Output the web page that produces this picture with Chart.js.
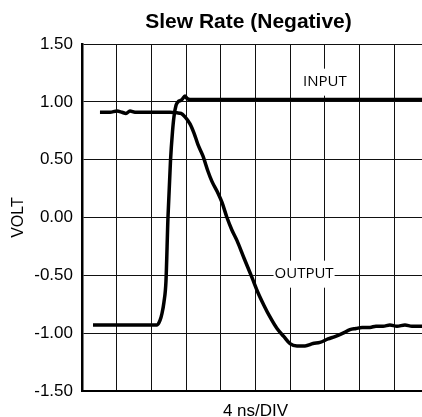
<!DOCTYPE html>
<html>
<head>
<meta charset="utf-8">
<title>Slew Rate (Negative)</title>
<script src="https://cdn.jsdelivr.net/npm/chart.js@4.4.1/dist/chart.umd.min.js"></script>
<style>
  html, body { margin: 0; padding: 0; background: #fff; overflow: hidden; }
  /* the original scope shot is cut off at the right and bottom, so the canvas is a bit larger than the window */
  #wrap { position: relative; width: 429px; height: 425px; }
</style>
</head>
<body>
<div id="wrap"><canvas id="slewChart"></canvas></div>
<script>
// time in ns (4 ns per division), voltage in V
const inputTime = [1.27, 4.96, 8.65, 8.99, 9.22, 9.45, 9.68, 9.91, 10.20, 10.43, 10.60, 10.84, 11.07, 11.30, 11.53, 11.87, 12.10, 12.45, 40.0];
const inputVolt = [-0.93, -0.93, -0.93, -0.89, -0.83, -0.73, -0.55, 0.00, 0.49, 0.74, 0.87, 0.97, 1.00, 1.01, 1.02, 1.05, 1.03, 1.02, 1.02];

const outputTime = [2.07, 3.23, 4.03, 4.61, 5.07, 5.53, 6.11, 7.84, 10.14, 10.95, 11.41, 11.87, 12.45, 12.91, 13.37,
  13.95, 14.52, 14.99, 15.68, 16.14, 16.71, 17.29, 17.87, 18.67, 19.60, 20.29, 20.98, 21.67, 22.48, 23.28, 23.98,
  24.78, 25.71, 26.63, 27.43, 28.36, 29.16, 30.09, 30.89, 31.58, 32.28, 33.20, 33.89, 34.70, 35.50, 36.31, 37.23,
  38.04, 39.19, 40.0];
const outputVolt = [0.91, 0.91, 0.92, 0.91, 0.90, 0.92, 0.91, 0.91, 0.91, 0.905, 0.90, 0.87, 0.81, 0.73, 0.63,
  0.53, 0.40, 0.31, 0.21, 0.13, 0.00, -0.11, -0.20, -0.35, -0.52, -0.65, -0.76, -0.86, -0.96, -1.03, -1.09,
  -1.11, -1.11, -1.09, -1.08, -1.05, -1.03, -1.00, -0.97, -0.96, -0.95, -0.95, -0.94, -0.94, -0.93, -0.94, -0.93,
  -0.94, -0.94, -0.94];

const traceNames = ['INPUT', 'OUTPUT'];
const nameTime = [28.0, 25.6];
const nameVolt = [1.17, -0.49];

const chartTitle = 'Slew Rate (Negative)';
const FONT = '"Liberation Sans", Arial, sans-serif';

function toPoints(xs, ys) {
    return xs.map((t, i) => ({ x: t, y: ys[i] }));
}

// title sits a little left of the plot centre in the scan, so it is drawn by hand
const headlinePlugin = {
    id: 'headline',
    afterDraw(chart) {
        const ctx = chart.ctx;
        ctx.save();
        ctx.font = 'bold 21px ' + FONT;
        ctx.fillStyle = '#000';
        ctx.textAlign = 'center';
        ctx.textBaseline = 'alphabetic';
        ctx.fillText(chartTitle, 248.5, 27.5);
        ctx.restore();
    }
};

// white boxes with the trace names, drawn over the grid
const traceNamePlugin = {
    id: 'traceNames',
    afterDatasetsDraw(chart) {
        const { ctx, scales: { x, y } } = chart;
        ctx.save();
        ctx.font = '15px "Open Sans", sans-serif';
        ctx.textAlign = 'center';
        ctx.textBaseline = 'middle';
        traceNames.forEach((name, i) => {
            const cx = x.getPixelForValue(nameTime[i]);
            const cy = y.getPixelForValue(nameVolt[i]);
            const w = ctx.measureText(name).width + 2;
            ctx.fillStyle = '#fff';
            ctx.fillRect(cx - w / 2, cy - 13.5, w, 27);
            ctx.fillStyle = '#000';
            ctx.fillText(name, cx, cy);
        });
        ctx.restore();
    }
};

new Chart(document.getElementById('slewChart'), {
    type: 'line',
    data: {
        datasets: [{
            label: 'INPUT',
            data: toPoints(inputTime, inputVolt),
            borderColor: '#000',
            borderWidth: 3.5,
            pointRadius: 0,
            cubicInterpolationMode: 'monotone'
        }, {
            label: 'OUTPUT',
            data: toPoints(outputTime, outputVolt),
            borderColor: '#000',
            borderWidth: 3.5,
            pointRadius: 0,
            cubicInterpolationMode: 'monotone'
        }]
    },
    options: {
        responsive: true,
        maintainAspectRatio: false,
        animation: false,
        layout: { padding: { top: 44, left: 0, right: 0, bottom: 0 } },
        plugins: {
            legend: { display: false },
            tooltip: { enabled: false },
            title: { display: false }
        },
        scales: {
            x: {
                type: 'linear',
                min: 0,
                max: 40,
                afterFit(scale) { scale.height = 34; },
                ticks: { display: false, stepSize: 4 },
                grid: { color: '#111', lineWidth: 1, drawTicks: false },
                border: { color: '#000', width: 2 },
                title: {
                    display: true,
                    text: '4 ns/DIV',
                    color: '#000',
                    font: { family: FONT, size: 17 },
                    padding: { top: 0, bottom: 3 }
                }
            },
            y: {
                min: -1.5,
                max: 1.5,
                afterFit(scale) {
                    scale.width = 82;
                    scale.paddingTop = 0;
                    scale.paddingBottom = 0;
                },
                ticks: {
                    stepSize: 0.5,
                    color: '#000',
                    padding: 9,
                    font: { family: FONT, size: 17 },
                    callback: v => v.toFixed(2)
                },
                grid: { color: '#111', lineWidth: 1, drawTicks: false },
                border: { color: '#000', width: 2.5 },
                title: {
                    display: true,
                    text: 'VOLT',
                    color: '#000',
                    font: { family: FONT, size: 16 },
                    padding: { top: 9, bottom: 0 }
                }
            }
        }
    },
    plugins: [traceNamePlugin, headlinePlugin]
});
</script>
</body>
</html>
